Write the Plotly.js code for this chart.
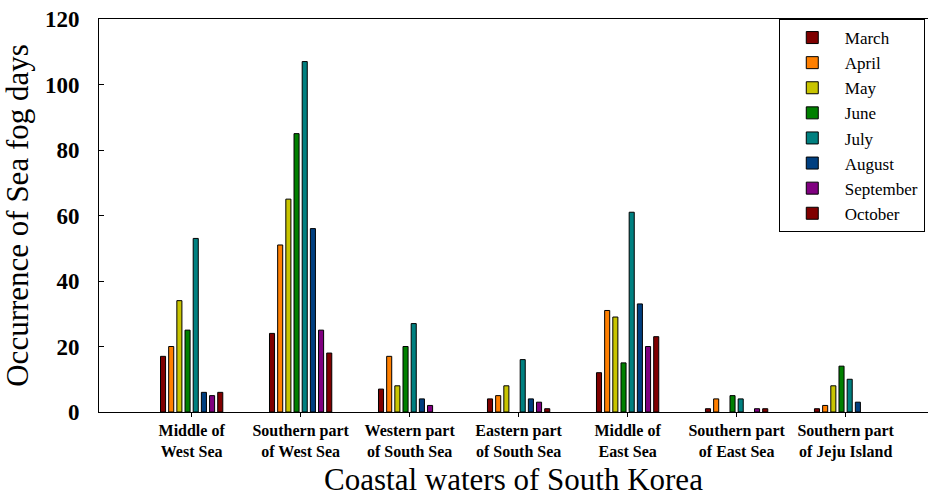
<!DOCTYPE html>
<html>
<head>
<meta charset="utf-8">
<script src="https://cdn.plot.ly/plotly-3.0.1.min.js"></script>
<style>html,body{margin:0;padding:0;background:#fff;}#chart{width:928px;height:497px;}</style>
</head>
<body>
<div id="chart"></div>
<script>
const categories = ["Middle of<br>West Sea", "Southern part<br>of West Sea", "Western part<br>of South Sea", "Eastern part<br>of South Sea", "Middle of<br>East Sea", "Southern part<br>of East Sea", "Southern part<br>of Jeju Island"];
const months = ["March", "April", "May", "June", "July", "August", "September", "October"];
const march     = [17, 24, 7, 4, 12, 1, 1];
const april     = [20, 51, 17, 5, 31, 4, 2];
const may       = [34, 65, 8, 8, 29, 0, 8];
const june      = [25, 85, 20, 0, 15, 5, 14];
const july      = [53, 107, 27, 16, 61, 4, 10];
const august    = [6, 56, 4, 4, 33, 0, 3];
const september = [5, 25, 2, 3, 20, 1, 0];
const october   = [6, 18, 0, 1, 23, 1, 0];
const series = [march, april, may, june, july, august, september, october];
const colors = ["#7f0000", "#ff7f00", "#c8c400", "#008000", "#008080", "#003f80", "#800080", "#800000"];

const traces = months.map((m, i) => ({
  type: "bar",
  name: m,
  x: categories,
  y: series[i],
  marker: {color: colors[i], line: {color: "#000", width: series[i].map(v => v === 0 ? 0 : 1)}}
}));

const serif = "Liberation Serif";
const layout = {
  width: 928, height: 497,
  margin: {l: 99, r: 0, t: 19, b: 85},
  paper_bgcolor: "#fff", plot_bgcolor: "#fff",
  barmode: "group", bargap: 0.4, bargroupgap: 0.38,
  showlegend: true,
  legend: {
    x: 0.82, y: 1, xanchor: "left", yanchor: "top",
    bgcolor: "#fff", bordercolor: "#000", borderwidth: 1,
    font: {family: serif, size: 17, color: "#000"},
    itemwidth: 55,
    tracegroupgap: 0
  },
  xaxis: {
    type: "category",
    range: [-0.85, 6.756],
    showline: true, linecolor: "#000", linewidth: 1, mirror: true,
    ticks: "outside", ticklen: 4, tickcolor: "#000",
    showgrid: false, zeroline: false,
    tickfont: {family: serif, size: 16, color: "#000", weight: "bold"},
    title: {text: "Coastal waters of South Korea", font: {family: serif, size: 31, color: "#000"}, standoff: 10}
  },
  yaxis: {
    range: [0, 120],
    tickvals: [0, 20, 40, 60, 80, 100, 120],
    showline: true, linecolor: "#000", linewidth: 1,
    ticks: "inside", ticklen: 5, tickcolor: "#000",
    showgrid: false, zeroline: false,
    tickfont: {family: serif, size: 23, color: "#000", weight: "bold"},
    ticklabelstandoff: 14,
    title: {text: "Occurrence of Sea fog days", font: {family: serif, size: 31, color: "#000"}, standoff: 10}
  }
};

Plotly.newPlot("chart", traces, layout, {displayModeBar: false, staticPlot: true});
</script>
</body>
</html>
